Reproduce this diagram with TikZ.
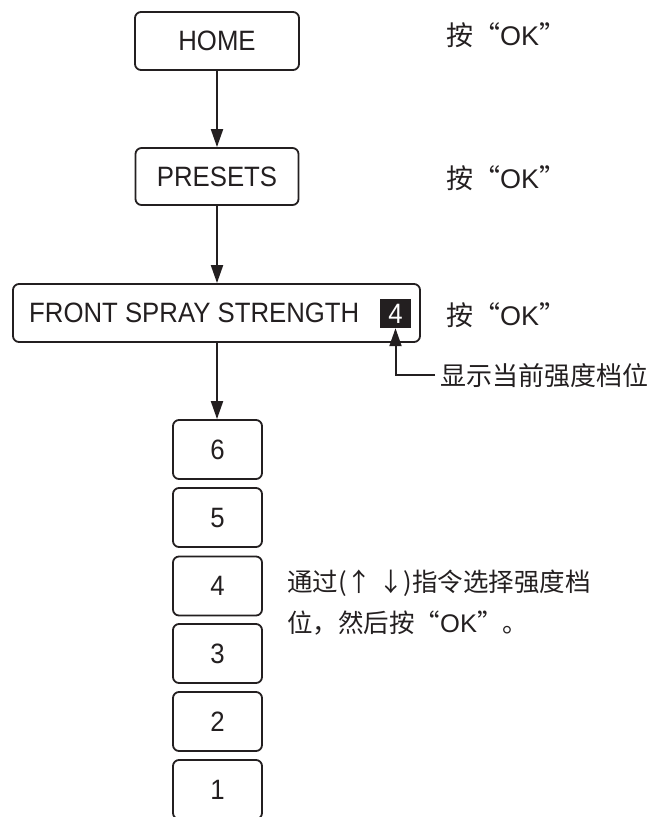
\documentclass[tikz,border=0pt]{standalone}
\usepackage{fontspec}
\setmainfont[FakeStretch=0.92]{Liberation Sans}
\newfontfamily\plainsans{Liberation Sans}
\newfontfamily\cjk{Noto Sans CJK SC}
\usetikzlibrary{arrows.meta}
\definecolor{ink}{HTML}{231F20}
\begin{document}
\begin{tikzpicture}[x=1pt,y=-1pt,
  box/.style={draw=ink, line width=1.8pt, rounded corners=6pt, inner sep=0pt,
    font=\fontsize{28}{33}\selectfont, text=ink},
  numbox/.style={box, minimum width=89, minimum height=59},
  flow/.style={draw=ink, line width=2pt, -{Triangle[length=18pt,width=12pt]}},
  note/.style={anchor=west, inner sep=0pt, text=ink, font=\fontsize{27}{33}\selectfont\plainsans},
  cnote/.style={note, font=\fontsize{26}{38}\selectfont\cjk, align=left},
]
\useasboundingbox (0,0) rectangle (666,817);
\node[box, minimum width=164, minimum height=58] (home) at (217,41) {HOME};
\node[box, minimum width=163, minimum height=57] (presets) at (217,176.5) {PRESETS};
\node[box, minimum width=407, minimum height=58] (front) at (216.5,313) {};
\node[anchor=west, inner sep=0pt, text=ink, font=\fontsize{28}{33}\selectfont] (ftext) at (29,313) {FRONT SPRAY STRENGTH};
\node[fill=ink, text=white, minimum width=31, minimum height=29, inner sep=0pt,
  font=\fontsize{28}{33}\selectfont] (cur) at (395.5,313.5) {4};

\node[numbox] (n6) at (217.5,449.5) {6};
\node[numbox] (n5) at (217.5,517.5) {5};
\node[numbox] (n4) at (217.5,586) {4};
\node[numbox] (n3) at (217.5,653.5) {3};
\node[numbox] (n2) at (217.5,721.5) {2};
\node[numbox] (n1) at (217.5,789.5) {1};

\coordinate (axis) at (217,0);
\draw[flow] (axis |- home.south) -- (axis |- presets.north);
\draw[flow] (axis |- presets.south) -- (axis |- front.north);
\draw[flow] (axis |- front.south) -- (axis |- n6.north);

\node[note] (ok1) at (446,35) {{\cjk 按“}OK{\cjk ”}};
\node[note] (ok2) at (446,178.5) {{\cjk 按“}OK{\cjk ”}};
\node[note] (ok3) at (446,315) {{\cjk 按“}OK{\cjk ”}};

\node[cnote] (disp) at (440,376) {显示当前强度档位};
\draw[flow] ([xshift=-5pt,yshift=1pt]disp.west) -| (cur.south);

\node[cnote, font=\fontsize{25.5}{38}\selectfont\cjk] (hint1) at (287,583) {通过(↑ ↓)指令选择强度档};
\node[cnote, font=\fontsize{25.5}{38}\selectfont\cjk] (hint2) at (287,623) {位，然后按“{\plainsans OK}”。};
\end{tikzpicture}
\end{document}
